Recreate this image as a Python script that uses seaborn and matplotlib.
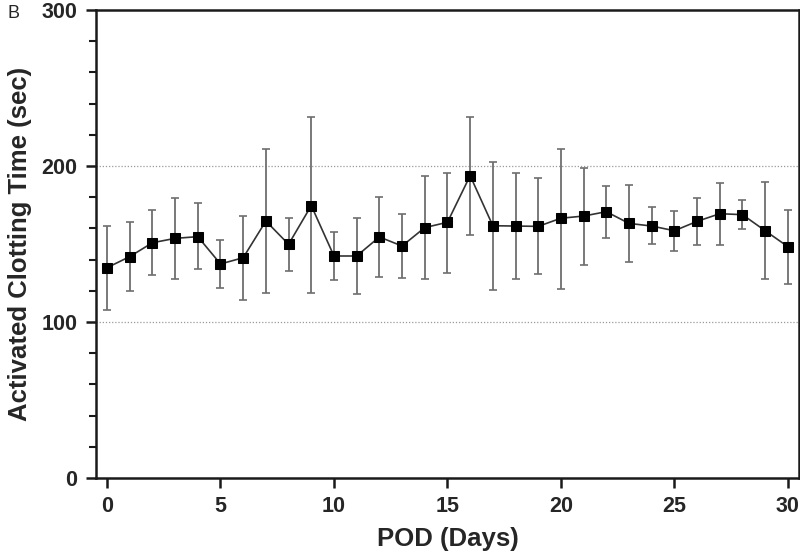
"""
Activated clotting time by post-operative day (panel B).
Mean +/- SD per day, square markers joined by a line.
"""

import numpy as np
import pandas as pd
import matplotlib
matplotlib.use("Agg")
import matplotlib.pyplot as plt
from matplotlib.ticker import MultipleLocator
import seaborn as sns

days = list(range(31))
act_mean = [134.8, 141.9, 150.8, 153.6, 154.7, 137.2, 141.2, 164.7, 149.8, 174.6,
            142.3, 142.3, 154.5, 148.7, 160.5, 163.9, 193.8, 161.7, 161.5, 161.3,
            166.5, 167.9, 170.7, 163.2, 161.5, 158.5, 164.5, 169.4, 168.8, 158.5,
            148.3]
act_upper = [161.7, 164.3, 171.6, 179.7, 176.5, 152.6, 168.0, 210.9, 166.9, 231.2,
             157.9, 166.9, 180.3, 169.4, 193.4, 195.5, 231.6, 202.8, 195.3, 192.1,
             211.1, 198.7, 187.2, 188.0, 173.5, 171.4, 179.3, 189.3, 178.0, 189.5,
             171.8]
act_lower = [107.5, 119.7, 130.1, 127.8, 133.8, 122.0, 114.3, 118.6, 132.5, 118.8,
             126.9, 117.7, 128.8, 128.0, 127.6, 131.6, 156.0, 120.3, 127.8, 130.8,
             121.4, 136.7, 154.0, 138.3, 149.8, 145.5, 149.2, 149.6, 159.6, 127.6,
             124.4]

df = pd.DataFrame({"day": days, "act": act_mean,
                   "upper": act_upper, "lower": act_lower})

sns.set_style("ticks")
plt.rcParams["font.family"] = ["Liberation Sans", "DejaVu Sans"]

fig = plt.figure(figsize=(8, 5.52), dpi=100)
ax = fig.add_axes([0.1196, 0.134, 0.8794, 0.848])

# dotted reference lines at the major ticks
for yv in (100, 200):
    ax.axhline(yv, color="#9a9a9a", lw=0.9, ls=(0, (1, 1.5)), zorder=0)

yerr = np.vstack([df["act"] - df["lower"], df["upper"] - df["act"]])
ax.errorbar(df["day"], df["act"], yerr=yerr, fmt="none", ecolor="#6e6e6e",
            elinewidth=1.3, capsize=3, capthick=1.2, zorder=1)
sns.lineplot(data=df, x="day", y="act", ax=ax, color="#333333", lw=1.2,
             marker="s", markersize=7, markerfacecolor="black",
             markeredgecolor="black", zorder=2)

ax.set_xlim(-0.5, 30.5)
ax.set_ylim(0, 300)
ax.xaxis.set_major_locator(MultipleLocator(5))
ax.yaxis.set_major_locator(MultipleLocator(100))
ax.yaxis.set_minor_locator(MultipleLocator(20))

for side in ("left", "bottom", "top", "right"):
    ax.spines[side].set_linewidth(1.8)
    ax.spines[side].set_color("#1a1a1a")
ax.tick_params(axis="both", which="major", length=7, width=1.8,
               labelsize=15.5, color="#1a1a1a", pad=6)
ax.tick_params(axis="y", which="minor", length=5, width=1.5, color="#1a1a1a")
for lbl in ax.get_xticklabels() + ax.get_yticklabels():
    lbl.set_fontweight("bold")

ax.set_xlabel("POD (Days)", fontsize=18.5, fontweight="bold", labelpad=7)
ax.set_ylabel("Activated Clotting Time (sec)", fontsize=18.5, fontweight="bold",
              labelpad=7)

fig.text(0.009, 0.975, "B", fontsize=13, va="center", ha="left")

fig.savefig("out.png", dpi=100)
